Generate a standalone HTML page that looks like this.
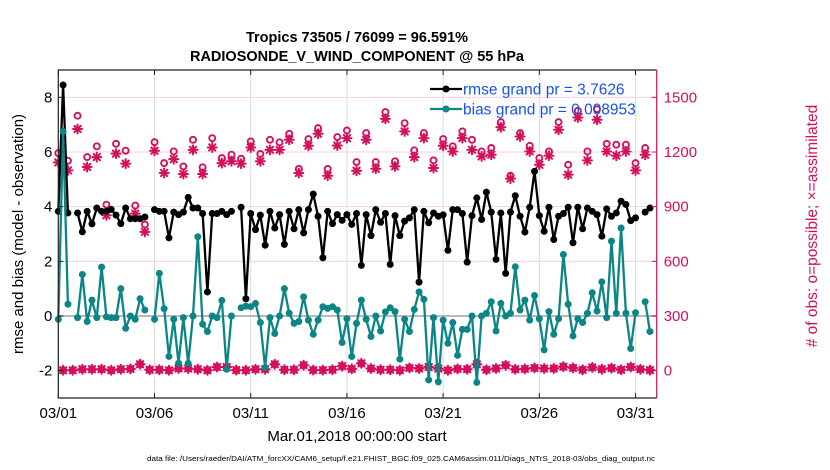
<!DOCTYPE html>
<html><head><meta charset="utf-8"><style>
html,body{margin:0;padding:0;background:#fff;}
svg{display:block;font-family:"Liberation Sans",sans-serif;}
</style></head><body>
<svg id="chart" width="830" height="470" viewBox="0 0 830 470" xmlns="http://www.w3.org/2000/svg">
<text x="357" y="42" font-size="14.5" font-weight="bold" text-anchor="middle">Tropics 73505 / 76099 = 96.591%</text>
<text x="357" y="61" font-size="14.5" font-weight="bold" text-anchor="middle">RADIOSONDE_V_WIND_COMPONENT @ 55 hPa</text>
<g id="grid"></g>
<g id="series"></g>
<g id="axes"></g>
<text transform="translate(23,234) rotate(-90)" font-size="15" text-anchor="middle">rmse and bias (model - observation)</text>
<text transform="translate(817,226) rotate(-90)" font-size="15.5" text-anchor="middle" fill="#d40f5c"># of obs: o=possible; ×=assimilated</text>
<text x="357" y="441" font-size="15" text-anchor="middle">Mar.01,2018 00:00:00 start</text>
<text x="147" y="461" font-size="7.5" textLength="508" lengthAdjust="spacingAndGlyphs">data file: /Users/raeder/DAI/ATM_forcXX/CAM6_setup/f.e21.FHIST_BGC.f09_025.CAM6assim.011/Diags_NTrS_2018-03/obs_diag_output.nc</text>
<g id="legend"></g>
</svg>
<script>
// ---- data ----
const xTickLabels = ["03/01","03/06","03/11","03/16","03/21","03/26","03/31"];
const xTickDays = [0,5,10,15,20,25,30];
const yTicksLeft = [-2,0,2,4,6,8];
const yTicksRight = [0,300,600,900,1200,1500];
// 6-hourly values (index i -> day i*0.25), null = missing
const rmse = [3.83,8.45,3.77,null,3.77,3.08,3.83,3.37,3.95,3.83,3.83,3.9,3.69,3.38,3.95,3.56,3.56,3.56,3.62,null,
3.89,3.83,3.83,2.86,3.8,3.71,3.8,4.34,3.95,3.95,3.75,0.88,3.75,3.75,3.83,3.71,3.83,null,3.98,0.63,
3.75,3.16,3.69,2.59,3.83,3.22,3.71,2.62,3.83,3.19,3.89,3.04,3.89,4.46,3.65,2.13,3.83,3.38,3.71,3.5,
3.71,3.35,3.75,1.85,3.71,2.94,3.89,3.43,3.75,1.89,3.67,2.94,3.47,3.59,3.89,1.24,3.83,3.41,3.77,3.65,
3.7,2.4,3.89,3.89,3.75,1.97,3.67,4.32,3.53,4.53,3.8,2.07,3.77,1.56,3.8,4.4,3.65,3.07,3.98,5.29,
3.67,3.1,3.98,2.8,3.65,3.75,3.98,2.68,3.98,3.19,3.95,3.83,3.71,2.92,3.92,3.65,3.77,4.2,4.08,3.49,
3.59,null,3.8,3.95];
const bias = [-0.12,6.75,0.43,null,-0.06,1.52,-0.2,0.58,-0.06,1.79,-0.03,-0.06,-0.06,1.0,-0.45,0,-0.12,0.63,0.22,null,
-0.12,1.56,0.27,-1.48,-0.12,-1.73,-0.06,-1.73,0,2.9,-0.3,-0.57,0,-0.06,0.57,-1.95,0,null,0.3,0.36,
0.34,0.46,-0.24,-1.89,-0.06,-0.64,0,1.0,0.1,-0.27,-0.2,0.7,-0.15,-0.67,-0.15,0.34,0.28,0.34,0.22,-0.97,
-0.1,-1.48,-0.27,0.58,-0.12,-0.75,0,-0.55,0.15,0.3,0.16,-1.58,-0.12,-0.57,0.24,0.88,0.61,-2.34,-0.06,-2.41,
-0.15,-1.0,-0.24,-1.44,-0.49,-0.49,0,-2.43,0,0.1,0.52,-0.55,0.46,0,0.1,1.8,0.22,0.58,-0.15,0.75,
-0.1,-1.24,0.16,-0.67,-0.1,2.25,0.43,-0.73,-0.1,-0.24,0.1,0.85,0.18,1.25,-0.06,2.74,0.1,3.22,0.1,-1.19,
0.12,null,0.52,-0.57];
// obs counts at 00Z/12Z (index k -> day k*0.5)
const possibleMain = [1194,1152,1399,1172,1231,911,1245,1207,906,802,1254,1139,1203,1121,1267,1116,1276,1167,1185,1163,
1258,1189,1267,1253,1300,1108,1271,1331,1107,1282,1318,1145,1304,1145,1419,1149,1358,1209,1304,1154,
1271,1231,1313,1267,1203,1222,1364,1070,1304,1234,1167,1203,1364,1130,1426,1203,1435,1245,1240,1240,1139,1222];
const assimMain = [1143,1099,1326,1118,1172,853,1191,1136,862,762,1207,1085,1161,1079,1212,1079,1225,1139,1149,1136,
1225,1149,1212,1212,1267,1085,1234,1300,1070,1236,1276,1097,1267,1108,1382,1121,1313,1172,1276,1112,
1234,1203,1276,1212,1176,1185,1336,1054,1285,1203,1130,1180,1322,1076,1389,1154,1377,1203,1180,1203,1099,1185];
// obs counts at 06Z/18Z (index k -> day k*0.5+0.25)
const countsOff = [2,2,8,8,8,2,8,10,35,5,5,2,12,12,8,2,20,20,3,2,
8,8,35,5,5,30,3,3,5,25,10,40,12,5,5,2,15,12,20,12,
2,10,8,35,5,12,30,8,10,15,12,12,22,15,5,18,8,14,5,20,8,3];

// ---- scales ----
const X0=58.3, X1=656.7, Y0=70, Y1=398;
const dMax=31.1, vMin=-3, vMax=9, rMin=-150, rMax=1650;
const xs=d=>X0+(X1-X0)*d/dMax;
const ys=v=>Y1-(Y1-Y0)*(v-vMin)/(vMax-vMin);
const yr=c=>Y1-(Y1-Y0)*(c-rMin)/(rMax-rMin);
const NS="http://www.w3.org/2000/svg";
function mk(tag,attrs,parent){const e=document.createElementNS(NS,tag);for(const k in attrs)e.setAttribute(k,attrs[k]);parent.appendChild(e);return e;}
const grid=document.getElementById('grid'),series=document.getElementById('series'),axes=document.getElementById('axes'),legend=document.getElementById('legend');
const CR="#d40f5c", TEAL="#0b8585";

// grid
xTickDays.forEach(d=>{const l=mk('line',{x1:xs(d),x2:xs(d),y1:Y0,y2:Y1,stroke:"#dcdcdc","stroke-width":1},grid);

});
yTicksRight.forEach(c=>{if(c===300)return;const l=mk('line',{x1:X0,x2:X1,y1:yr(c),y2:yr(c),stroke:"#f4d0de","stroke-width":1},grid);

});
const zl=mk('line',{x1:X0,x2:X1,y1:ys(0),y2:ys(0),stroke:"#b8b8b8","stroke-width":2},grid);



// line series
function drawLine(vals,color,name){
  let d="",pen=false;
  vals.forEach((v,i)=>{if(v===null){pen=false;return;}d+=(pen?"L":"M")+xs(i*0.25).toFixed(2)+" "+ys(v).toFixed(2);pen=true;});
  const p=mk('path',{d:d,fill:"none",stroke:color,"stroke-width":2.3,"stroke-linejoin":"round"},series);
  
  
  vals.forEach((v,i)=>{if(v===null)return;const c=mk('circle',{cx:xs(i*0.25),cy:ys(v),r:3.5,fill:color},series);
    
    });
}
function star(x,y,parent){
  const g=mk('g',{stroke:CR,"stroke-width":2,"stroke-linecap":"round"},parent);
  const s=4.5;
  mk('line',{x1:x-s,x2:x+s,y1:y,y2:y},g);mk('line',{x1:x,x2:x,y1:y-s,y2:y+s},g);
  mk('line',{x1:x-s*0.7,x2:x+s*0.7,y1:y-s*0.7,y2:y+s*0.7},g);mk('line',{x1:x-s*0.7,x2:x+s*0.7,y1:y+s*0.7,y2:y-s*0.7},g);
  return g;
}
// obs markers
possibleMain.forEach((c,k)=>{const o=mk('circle',{cx:xs(k*0.5),cy:yr(c),r:3,fill:"none",stroke:CR,"stroke-width":1.9},series);
  
  });
assimMain.forEach((c,k)=>{const g=star(xs(k*0.5),yr(c),series);
  
  });
countsOff.forEach((c,k)=>{const x=xs(k*0.5+0.25),y=yr(c);
  const o=mk('circle',{cx:x,cy:y,r:3.5,fill:CR,stroke:CR,"stroke-width":1},series);
  
  
  star(x,y,series);});
drawLine(rmse,"#000","rmse");
drawLine(bias,TEAL,"bias");

// axes
const fr=mk('path',{d:`M${X1} ${Y0}H${X0}V${Y1}H${X1}`,fill:"none",stroke:"#222","stroke-width":1.2},axes);


const ra=mk('line',{x1:X1,x2:X1,y1:Y0,y2:Y1,stroke:CR,"stroke-width":1.2},axes);


xTickDays.forEach((d,i)=>{
  mk('line',{x1:xs(d),x2:xs(d),y1:Y1,y2:Y1-5,stroke:"#222"},axes);
  mk('line',{x1:xs(d),x2:xs(d),y1:Y0,y2:Y0+5,stroke:"#222"},axes);
  const t=mk('text',{x:xs(d),y:418,"font-size":15,"text-anchor":"middle"},axes);t.textContent=xTickLabels[i];
  
  });
yTicksLeft.forEach(v=>{
  mk('line',{x1:X0,x2:X0+5,y1:ys(v),y2:ys(v),stroke:"#222"},axes);
  const t=mk('text',{x:X0-6,y:ys(v)+5,"font-size":15,"text-anchor":"end"},axes);t.textContent=v;
  
  });
yTicksRight.forEach(c=>{
  mk('line',{x1:X1,x2:X1-5,y1:yr(c),y2:yr(c),stroke:CR},axes);
  const t=mk('text',{x:X1+7,y:yr(c)+5,"font-size":15,fill:CR},axes);t.textContent=c;
  
  });

// legend
[["rmse grand pr = 3.7626","#000",89],["bias grand pr = 0.008953",TEAL,109]].forEach(([txt,col,y])=>{
  const g=mk('g',{},legend);
  
  
  mk('line',{x1:430,x2:462,y1:y,y2:y,stroke:col,"stroke-width":2.3},g);
  mk('circle',{cx:446,cy:y,r:3.5,fill:col},g);
  const t=mk('text',{x:463,y:y+5.5,"font-size":15.5,fill:"#1652f0"},g);t.textContent=txt;});
</script>
</body></html>
